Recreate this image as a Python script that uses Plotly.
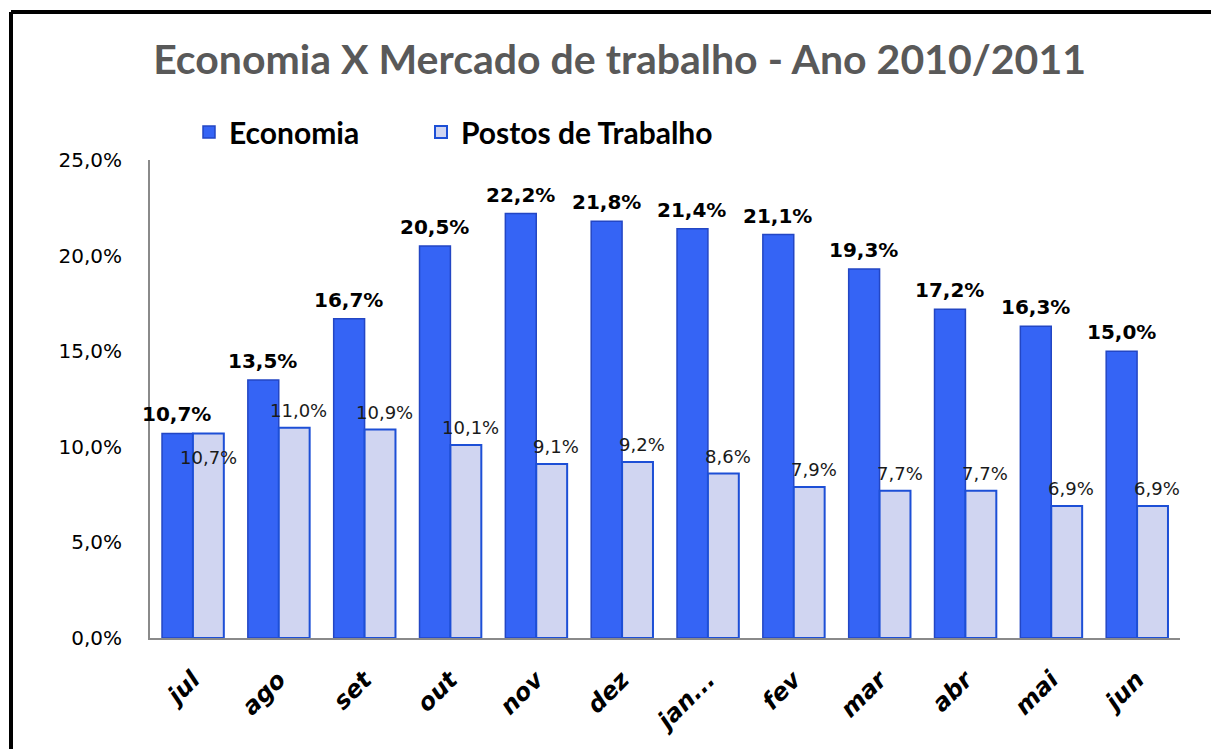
import plotly.graph_objects as go

categories = ["jul", "ago", "set", "out", "nov", "dez", "jan...", "fev", "mar", "abr", "mai", "jun"]
economia = [10.7, 13.5, 16.7, 20.5, 22.2, 21.8, 21.4, 21.1, 19.3, 17.2, 16.3, 15.0]
postos = [10.7, 11.0, 10.9, 10.1, 9.1, 9.2, 8.6, 7.9, 7.7, 7.7, 6.9, 6.9]
ytick_vals = [0, 5, 10, 15, 20, 25]

W, H = 1211, 741
ML, MR, MT, MB = 142, 39, 152, 111
PW, PH = W - ML - MR, H - MT - MB


def fmt(v):
    return f"{v:.1f}".replace(".", ",") + "%"


fig = go.Figure()
fig.add_trace(go.Bar(
    name="Economia", x=categories, y=economia, legend="legend",
    marker=dict(color="#3564f5", line=dict(color="#2346c4", width=1.5)),
))
fig.add_trace(go.Bar(
    name="Postos de Trabalho", x=categories, y=postos, legend="legend2",
    marker=dict(color="#d0d5f1", line=dict(color="#1d4fd6", width=2)),
))

annotations = []
for c, v in zip(categories, economia):
    annotations.append(dict(x=c, y=v, xref="x", yref="y", text=fmt(v), showarrow=False,
                            xshift=-16, yshift=5, yanchor="bottom",
                            font=dict(family="DejaVu Sans", size=20, color="black", weight="bold")))
for c, v, e in zip(categories, postos, economia):
    crowded = abs(e - v) < 1.5
    annotations.append(dict(x=c, y=v, xref="x", yref="y", text=fmt(v), showarrow=False,
                            xshift=20 if not crowded else 16,
                            yshift=5 if not crowded else -12,
                            yanchor="bottom" if not crowded else "top",
                            font=dict(family="DejaVu Sans", size=18, color="#1a1a1a")))

# frame lines (top and left) in paper coords
fx = (3 - ML) / PW
fy = (H - MB - 4) / PH
shapes = [
    dict(type="line", xref="paper", yref="paper", x0=fx, x1=2, y0=fy, y1=fy,
         line=dict(color="black", width=4)),
    dict(type="line", xref="paper", yref="paper", x0=fx, x1=fx, y0=fy, y1=-2,
         line=dict(color="black", width=4)),
]

legend_font = dict(family="Lato", size=30, color="black", weight="bold")
leg_y = (H - MB - 124) / PH

fig.update_layout(
    width=W, height=H,
    margin=dict(l=ML, r=MR, t=MT, b=MB, autoexpand=False),
    paper_bgcolor="white", plot_bgcolor="white",
    barmode="group", bargap=0.28, bargroupgap=0,
    title=dict(text="Economia X Mercado de trabalho - Ano 2010/2011",
               x=0.505, xanchor="center", y=0.93, yanchor="middle",
               font=dict(family="Lato", size=41, color="#595959", weight="bold")),
    legend=dict(orientation="h", x=(181 - ML) / PW, xanchor="left", y=leg_y, yanchor="middle",
                font=legend_font, bgcolor="rgba(0,0,0,0)"),
    legend2=dict(orientation="h", x=(413 - ML) / PW, xanchor="left", y=leg_y, yanchor="middle",
                 font=legend_font, bgcolor="rgba(0,0,0,0)"),
    xaxis=dict(range=[-0.5, len(categories) - 0.5], autorange=False,
               showline=True, linecolor="#8a8a8a", linewidth=2, tickangle=-45,
               tickfont=dict(family="DejaVu Sans", size=24, color="black",
                             weight="bold", style="italic"),
               ticks="", showgrid=False, ticklabelstandoff=16),
    yaxis=dict(range=[0, 25], tickvals=ytick_vals, ticktext=[fmt(v) for v in ytick_vals],
               showline=True, linecolor="#8a8a8a", linewidth=2, showgrid=False,
               zeroline=False, ticks="", ticklabelstandoff=22,
               tickfont=dict(family="DejaVu Sans", size=20, color="black")),
    annotations=annotations,
    shapes=shapes,
    showlegend=True,
)

fig.write_html("out.html")
